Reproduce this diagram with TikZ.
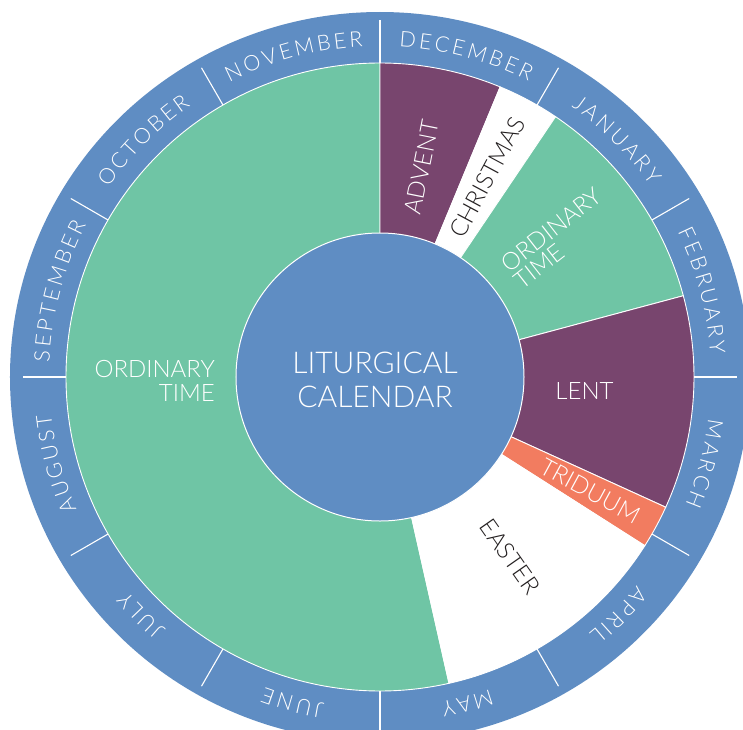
\documentclass[tikz,border=0pt]{standalone}
\usepackage{fontspec}
\IfFontExistsTF{Lato Light}{\setmainfont{Lato Light}}{\setmainfont{Lato}}
\usetikzlibrary{decorations.text}
\definecolor{ringblue}{HTML}{5F8DC3}
\definecolor{ordgreen}{HTML}{6FC5A5}
\definecolor{purp}{HTML}{78456E}
\definecolor{orng}{HTML}{F27C60}
\definecolor{darktext}{HTML}{231F20}
\newlength\MonLen
\newcommand\monthstyle{\fontsize{21.5}{22}\selectfont\color{white}}
% measure month names outside the picture
\newcommand\monthspan[2]{%
  \settowidth\MonLen{\fontsize{21.5}{22}\selectfont #1}%
  \pgfmathsetmacro\MonTmp{(\MonLen+(#2-1)*3)/331*180/pi}%
  \expandafter\xdef\csname monspan#1\endcsname{\MonTmp}%
}
\newcommand\monthlab[2]{%
  \pgfmathsetmacro\MonA{#2+\csname monspan#1\endcsname/2}%
  \pgfmathsetmacro\MonB{#2-\csname monspan#1\endcsname/2}%
  \path[decorate,decoration={text along path,text={|\monthstyle|#1},text align=fit to path}]
    (\MonA:331) arc[start angle=\MonA,end angle=\MonB,radius=331];%
}
\newcommand\seasonwedge[3]{%
  \filldraw[fill=#1,draw=white,line width=0.9pt] (0,0) -- (#2:314) arc[start angle=#2,end angle=#3,radius=314] -- cycle;%
}
\tikzset{
  season/.style={font=\fontsize{24}{24}\selectfont, text=white, inner sep=0pt},
  divider/.style={white, line width=1.1pt}
}
\begin{document}
\monthspan{DECEMBER}{8}\monthspan{JANUARY}{7}\monthspan{FEBRUARY}{8}%
\monthspan{MARCH}{5}\monthspan{APRIL}{5}\monthspan{MAY}{3}%
\monthspan{JUNE}{4}\monthspan{JULY}{4}\monthspan{AUGUST}{6}%
\monthspan{SEPTEMBER}{9}\monthspan{OCTOBER}{7}\monthspan{NOVEMBER}{8}%
\begin{tikzpicture}[x=1pt,y=1pt]
\useasboundingbox (-380,-352) rectangle (363,377);
\fill[white] (-380,-352) rectangle (363,377);
\clip (-380,-352) rectangle (363,377);
% month ring
\fill[ringblue] (0,0) ellipse [x radius=370, y radius=365];
% seasons
\seasonwedge{ordgreen}{90}{282.7}
\seasonwedge{purp}{67.5}{90}
\seasonwedge{white}{56}{67.5}
\seasonwedge{ordgreen}{15}{56}
\seasonwedge{purp}{-24.5}{15}
\seasonwedge{orng}{-32.5}{-24.5}
\seasonwedge{white}{-77.3}{-32.5}
% centre
\filldraw[fill=ringblue, draw=white, line width=1pt] (0,0) circle (144);
% month dividers
\foreach \a in {0,30,...,330} \draw[divider] (\a:314) -- (\a:357);
% month labels
\monthlab{DECEMBER}{75}
\monthlab{JANUARY}{45}
\monthlab{FEBRUARY}{15}
\monthlab{MARCH}{-15}
\monthlab{APRIL}{-45}
\monthlab{MAY}{-75}
\monthlab{JUNE}{-105}
\monthlab{JULY}{-135}
\monthlab{AUGUST}{-165}
\monthlab{SEPTEMBER}{165}
\monthlab{OCTOBER}{135}
\monthlab{NOVEMBER}{105}
% season labels
\node[season, rotate=78.75] (advent) at (78.75:214) {ADVENT};
\node[season, text=darktext, rotate=61.75] (christmas) at (61.75:227) {CHRISTMAS};
\node[season, rotate=38, align=left, font=\fontsize{24}{21.5}\selectfont] (ordsmall) at (178,139) {ORDINARY\\TIME};
\node[season] (lent) at (204.5,-14.5) {LENT};
\node[season, rotate=-28.5] (triduum) at (210,-114) {TRIDUUM};
\node[season, text=darktext, rotate=-55] (easter) at (130,-179.5) {EASTER};
\node[season, align=right, anchor=east] (ordbig) at (-165,-4) {ORDINARY\\TIME};
\node[font=\fontsize{30}{34}\selectfont, text=white, align=center, inner sep=0pt] (title) at (-5,-3) {LITURGICAL\\CALENDAR};
\end{tikzpicture}
\end{document}
